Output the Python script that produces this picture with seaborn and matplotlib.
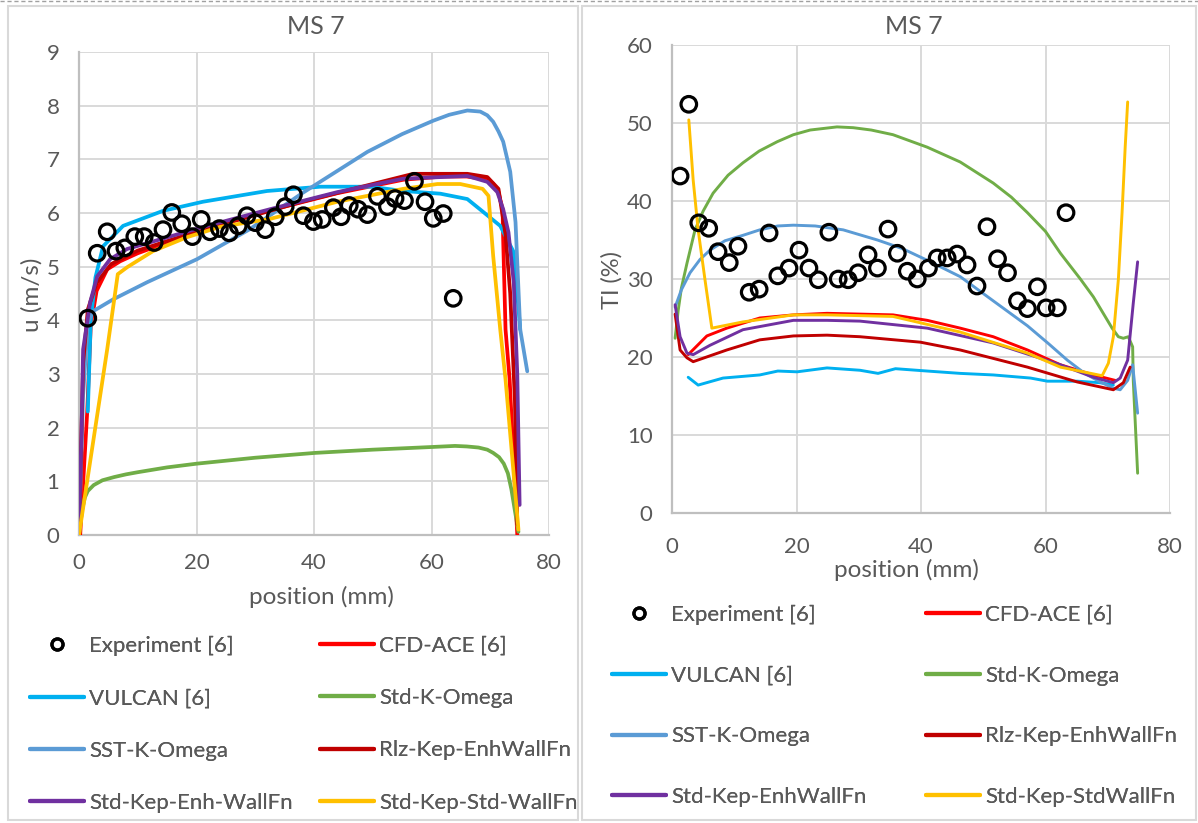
import matplotlib
matplotlib.use("Agg")
import matplotlib.pyplot as plt
from matplotlib.lines import Line2D
from matplotlib.patches import Rectangle
import seaborn as sns

# ---------------- data: velocity (left) ----------------
exp_u_x = [1.5, 3.1, 4.8, 6.3, 7.8, 9.5, 11.1, 12.8, 14.3, 15.8, 17.5, 19.3, 20.8, 22.3, 23.9, 25.6,
           27.1, 28.6, 30.0, 31.7, 33.4, 35.1, 36.5, 38.2, 39.9, 41.4, 43.3, 44.6, 46.0, 47.5, 49.1,
           50.8, 52.5, 53.8, 55.4, 57.1, 58.9, 60.3, 62.0, 63.7]
exp_u = [4.04, 5.25, 5.65, 5.29, 5.35, 5.56, 5.56, 5.45, 5.69, 6.01, 5.80, 5.56, 5.88, 5.65, 5.71, 5.63,
         5.76, 5.95, 5.82, 5.69, 5.93, 6.12, 6.34, 5.95, 5.84, 5.88, 6.10, 5.93, 6.14, 6.07, 5.97,
         6.31, 6.12, 6.27, 6.23, 6.59, 6.21, 5.90, 5.99, 4.41]

cfd_u_x = [0.2, 1.4, 2.0, 3.0, 4.8, 7.0, 10, 15, 21.1, 32.5, 44, 55.2, 62, 66, 69, 70.5, 71.4, 72.1,
           72.2, 72.6, 73.3, 74.6]
cfd_u = [0, 2.3, 3.9, 4.55, 4.95, 5.1, 5.25, 5.45, 5.7, 6.05, 6.37, 6.62, 6.68, 6.68, 6.63, 6.55, 6.39,
         6.07, 5.5, 3.83, 2.9, 0.0]

vul_u_x = [1.5, 2.0, 2.8, 4.1, 7.5, 14.3, 21.1, 32.0, 41.1, 49.6, 55.2, 61.5, 66.1, 68.8, 71.7, 74.0, 75.1]
vul_u = [2.3, 4.0, 4.8, 5.38, 5.76, 6.04, 6.21, 6.41, 6.49, 6.49, 6.41, 6.36, 6.26, 6.02, 5.76, 5.27, 3.83]

kw_u_x = [0, 0.5, 1.0, 1.5, 2.5, 4.0, 6.0, 8.0, 10.0, 15.0, 20.1, 30.0, 40.2, 50.0, 60.1, 64.0, 66.0,
          68.0, 69.5, 70.5, 71.5, 72.3, 73.0, 73.6, 74.2, 74.8]
kw_u = [0, 0.45, 0.7, 0.82, 0.93, 1.02, 1.08, 1.13, 1.17, 1.26, 1.33, 1.44, 1.53, 1.59, 1.64, 1.66, 1.65,
        1.63, 1.59, 1.53, 1.45, 1.33, 1.15, 0.85, 0.45, 0.06]

sst_u_x = [0, 0.7, 1.5, 2.4, 5.8, 11.6, 20.1, 29.1, 38.0, 49.1, 55.0, 60.3, 63.0, 66.1, 68.3, 69.5,
           70.5, 71.4, 72.2, 72.8, 73.4, 73.9, 74.3, 75.1, 76.3]
sst_u = [0, 2.6, 3.96, 4.17, 4.39, 4.71, 5.14, 5.70, 6.37, 7.14, 7.47, 7.72, 7.83, 7.91, 7.89, 7.82,
         7.70, 7.52, 7.33, 7.05, 6.77, 6.25, 5.83, 3.83, 3.05]

rlz_u_x = [0, 0.7, 1.5, 3, 5.5, 10, 20, 37.6, 56.9, 66.1, 69.5, 71.4, 72.6, 73.4, 74.2, 74.6]
rlz_u = [0, 3.2, 4.2, 4.7, 5.05, 5.3, 5.65, 6.2, 6.73, 6.73, 6.67, 6.45, 5.6, 4.5, 2.5, 0.2]

ske_u_x = [0, 0.4, 0.7, 1.9, 3.1, 5.3, 8.2, 21.1, 32.5, 44, 55.2, 66.1, 69.5, 71.2, 72.2, 73.1, 74.0,
           74.6, 75.0]
ske_u = [0.2, 1.8, 3.46, 4.34, 4.82, 5.14, 5.33, 5.74, 6.07, 6.39, 6.64, 6.69, 6.58, 6.39, 6.07, 5.64,
         4.71, 3.0, 0.56]

sks_u_x = [0, 4.8, 6.6, 8.2, 12.6, 18.4, 24, 32.5, 44, 55.2, 61, 64.9, 68.7, 69.7, 70.5, 71.7, 72.6, 74.8]
sks_u = [0, 3.46, 4.86, 4.99, 5.29, 5.55, 5.74, 5.89, 6.21, 6.45, 6.54, 6.54, 6.45, 6.32, 5.2, 3.83,
         2.9, 0.1]

# ---------------- data: turbulence intensity (right) ----------------
exp_ti_x = [1.3, 2.7, 4.3, 5.9, 7.4, 9.2, 10.6, 12.4, 14.0, 15.6, 17.0, 18.8, 20.4, 22.0, 23.5, 25.2,
            26.7, 28.3, 29.9, 31.5, 33.0, 34.7, 36.2, 37.8, 39.4, 41.2, 42.6, 44.2, 45.8, 47.4, 49.0,
            50.6, 52.3, 53.9, 55.5, 57.1, 58.7, 60.1, 61.9, 63.3]
exp_ti = [43.2, 52.4, 37.2, 36.5, 33.5, 32.1, 34.2, 28.3, 28.7, 35.9, 30.4, 31.4, 33.7, 31.4, 29.9, 36.0,
          30.0, 29.9, 30.8, 33.1, 31.4, 36.4, 33.3, 31.0, 30.0, 31.4, 32.7, 32.7, 33.2, 31.8, 29.1,
          36.7, 32.6, 30.8, 27.2, 26.2, 29.0, 26.3, 26.3, 38.5]

vul_ti_x = [2.6, 4.2, 8.2, 14.1, 17.0, 20.1, 24.9, 30.2, 33.1, 35.9, 41.0, 46.3, 51.6, 57.6, 60.3, 65.1,
            68.8, 70.9]
vul_ti = [17.4, 16.4, 17.3, 17.7, 18.2, 18.1, 18.6, 18.3, 17.9, 18.5, 18.2, 17.9, 17.7, 17.3, 16.9, 16.9,
          16.7, 16.4]

cfd_ti_x = [2.6, 5.6, 8.8, 14.1, 19.5, 24.9, 30.2, 35.5, 41.0, 46.3, 51.6, 57.1, 62.4, 67.7, 71.2]
cfd_ti = [20.3, 22.7, 23.7, 25.0, 25.4, 25.6, 25.5, 25.4, 24.7, 23.7, 22.6, 20.9, 19.0, 17.7, 17.0]

kw_ti_x = [0.5, 1.0, 1.5, 2.4, 3.7, 5.0, 6.6, 9.0, 11.4, 14.0, 16.9, 19.5, 22.2, 26.5, 29.1, 32.0, 35.5,
           41.0, 46.3, 51.6, 54.5, 57.1, 60.0, 62.4, 65.6, 67.7, 70.7, 71.7, 72.5, 73.3, 74.0, 74.1, 74.8]
kw_ti = [22.4, 26.0, 28.8, 32.0, 36.3, 38.7, 41.0, 43.3, 44.9, 46.4, 47.6, 48.5, 49.1, 49.5, 49.4, 49.1,
         48.5, 46.9, 45.0, 42.3, 40.5, 38.5, 36.1, 33.3, 30.0, 27.7, 23.7, 22.6, 22.4, 22.6, 21.3, 17.0, 5.1]

sst_ti_x = [0.5, 1.5, 2.9, 4.5, 6.1, 8.5, 11.4, 14.1, 17.0, 19.5, 23.0, 27.5, 33.0, 37.0, 41.0, 46.3,
            51.6, 57.1, 60.5, 63.5, 66.3, 68.8, 70.9, 72.0, 73.2, 74.0, 74.8]
sst_ti = [26.4, 28.6, 30.8, 32.5, 33.7, 34.9, 35.6, 36.3, 36.8, 36.9, 36.8, 36.3, 35.0, 33.9, 32.4, 30.3,
          27.2, 24.0, 21.7, 19.6, 17.9, 16.8, 16.0, 15.8, 17.0, 19.0, 12.8]

rlz_ti_x = [0.5, 1.3, 2.4, 3.4, 8.8, 14.1, 19.5, 24.9, 30.2, 39.9, 46.3, 57.1, 65.1, 70.9, 72.5, 73.6]
rlz_ti = [25.5, 20.9, 19.9, 19.4, 20.9, 22.2, 22.7, 22.8, 22.6, 21.9, 20.9, 18.7, 16.8, 15.8, 16.7, 18.7]

ske_ti_x = [0.5, 1.3, 2.4, 3.4, 6.1, 11.4, 19.5, 24.9, 30.2, 41.0, 51.6, 62.4, 67.7, 70.9, 72.0, 73.2,
            74.1, 74.8]
ske_ti = [26.7, 22.6, 20.5, 20.3, 21.5, 23.5, 24.7, 24.7, 24.6, 23.7, 21.8, 19.0, 17.4, 16.7, 17.3, 19.6,
          26.9, 32.2]

sks_ti_x = [2.7, 3.4, 4.2, 5.3, 6.4, 11.4, 19.5, 25.0, 35.5, 46.3, 57.1, 62.4, 69.1, 70.1, 70.9, 71.7,
            72.3, 72.8, 73.2]
sks_ti = [50.4, 42.7, 36.3, 29.9, 23.7, 24.5, 25.4, 25.4, 25.2, 23.2, 20.5, 18.7, 17.6, 19.2, 22.6, 29.9,
          38.5, 46.9, 52.7]

labels_left = ["Experiment [6]", "CFD-ACE [6]", "VULCAN [6]", "Std-K-Omega", "SST-K-Omega",
               "Rlz-Kep-EnhWallFn", "Std-Kep-Enh-WallFn", "Std-Kep-Std-WallFn"]
labels_right = ["Experiment [6]", "CFD-ACE [6]", "VULCAN [6]", "Std-K-Omega", "SST-K-Omega",
                "Rlz-Kep-EnhWallFn", "Std-Kep-EnhWallFn", "Std-Kep-StdWallFn"]
colors = ["black", "#FF0000", "#00B0F0", "#70AD47", "#5B9BD5", "#C00000", "#7030A0", "#FFC000"]

sns.set_theme(style="whitegrid")
plt.rcParams["font.family"] = ["Lato", "DejaVu Sans"]
TXT = "#595959"

W, H = 1198, 823
fig = plt.figure(figsize=(W / 100, H / 100), dpi=100)


def fx(px):
    return px / W


def fy(py):
    return 1 - py / H


# panel frames and top dashed line
fig.add_artist(Rectangle((fx(8), fy(820)), fx(570), 814 / H, transform=fig.transFigure,
                         fill=False, edgecolor="#D9D9D9", lw=1.5))
fig.add_artist(Rectangle((fx(582), fy(820)), fx(614), 814 / H, transform=fig.transFigure,
                         fill=False, edgecolor="#D9D9D9", lw=1.5))
fig.add_artist(Line2D([0, 1], [fy(1), fy(1)], transform=fig.transFigure, color="#A0A0A0",
                      lw=1, ls=(0, (3, 2))))

axL = fig.add_axes([fx(79), fy(535), fx(549 - 79), (535 - 52) / H])
axR = fig.add_axes([fx(672), fy(513), fx(1170 - 672), (513 - 45) / H])


def draw(ax, ex, ey, series, lw):
    for (x, y), c in zip(series, colors[1:]):
        sns.lineplot(x=x, y=y, ax=ax, sort=False, estimator=None, color=c, lw=lw, zorder=3)
    sns.scatterplot(x=ex, y=ey, ax=ax, s=125, facecolor="none", edgecolor="black",
                    linewidth=2.3, zorder=5)


draw(axL, exp_u_x, exp_u,
     [(cfd_u_x, cfd_u), (vul_u_x, vul_u), (kw_u_x, kw_u), (sst_u_x, sst_u),
      (rlz_u_x, rlz_u), (ske_u_x, ske_u), (sks_u_x, sks_u)], 2.7)
draw(axR, exp_ti_x, exp_ti,
     [(cfd_ti_x, cfd_ti), (vul_ti_x, vul_ti), (kw_ti_x, kw_ti), (sst_ti_x, sst_ti),
      (rlz_ti_x, rlz_ti), (ske_ti_x, ske_ti), (sks_ti_x, sks_ti)], 2.1)

for ax, ymax, ystep, xpad in [(axL, 9, 1, 13), (axR, 60, 10, 17.5)]:
    ax.set_xlim(0, 80)
    ax.set_ylim(0, ymax)
    ax.set_xticks(range(0, 81, 20))
    ax.set_yticks(range(0, ymax + 1, ystep))
    ax.set_xlabel("")
    ax.set_ylabel("")
    ax.grid(True, color="#D9D9D9", lw=1.4)
    ax.set_facecolor("white")
    for s in ["top", "right"]:
        ax.spines[s].set_visible(False)
    for s in ["left", "bottom"]:
        ax.spines[s].set_visible(True)
        ax.spines[s].set_color("#BFBFBF")
        ax.spines[s].set_linewidth(1.6)
    ax.tick_params(axis="x", length=0, pad=xpad, labelsize=16, labelcolor=TXT)
    ax.tick_params(axis="y", length=0, pad=14, labelsize=16, labelcolor=TXT)

# titles and axis labels
fig.text(fx(316), fy(27), "MS 7", ha="center", va="center", fontsize=18, color=TXT)
fig.text(fx(914), fy(27), "MS 7", ha="center", va="center", fontsize=18, color=TXT)
fig.text(fx(321), fy(597), "position (mm)", ha="center", va="center", fontsize=17.5, color=TXT)
fig.text(fx(906), fy(570), "position (mm)", ha="center", va="center", fontsize=17.5, color=TXT)
fig.text(fx(32), fy(295), "u (m/s)", ha="center", va="center", rotation=90, fontsize=17.5, color=TXT)
fig.text(fx(612), fy(280), "TI (%)", ha="center", va="center", rotation=90, fontsize=17, color=TXT)


# legends (two columns each, placed as separate column legends)
def handles(lw):
    hs = [Line2D([], [], ls="none", marker="o", markersize=8, markerfacecolor="none",
                 markeredgecolor="black", markeredgewidth=2.3)]
    for c in colors[1:]:
        hs.append(Line2D([], [], color=c, lw=lw))
    return hs


def make_legend(hs, labs, x_col1, x_col2, y_top, spacing):
    idx1 = [0, 2, 4, 6]
    idx2 = [1, 3, 5, 7]
    for idx, xc in [(idx1, x_col1), (idx2, x_col2)]:
        leg = fig.legend([hs[i] for i in idx], [labs[i] for i in idx], loc="upper left",
                         bbox_to_anchor=(fx(xc), fy(y_top)), frameon=False, fontsize=16,
                         labelcolor=TXT, handlelength=2.45, handletextpad=0.2,
                         labelspacing=spacing, borderaxespad=0, borderpad=0)
        fig.add_artist(leg)


make_legend(handles(3.0), labels_left, 30, 320, 636, 1.45)
make_legend(handles(3.0), labels_right, 612, 926, 605, 1.83)

fig.savefig("out.png", dpi=100, facecolor="white")
